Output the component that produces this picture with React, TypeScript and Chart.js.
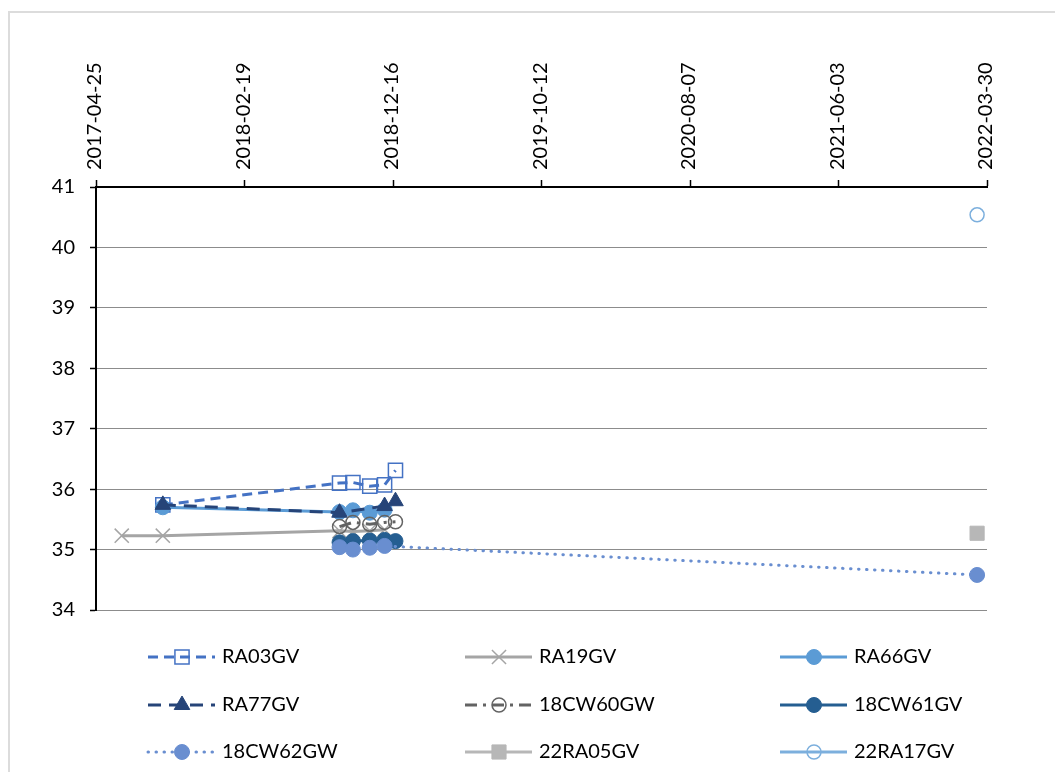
import React, { useEffect, useRef } from 'react';
import { Chart, registerables } from 'chart.js';
Chart.register(...registerables);

// ---------- data ----------
const xTickLabels = ['2017-04-25', '2018-02-19', '2018-12-16', '2019-10-12', '2020-08-07', '2021-06-03', '2022-03-30'];
const yTickValues = [34, 35, 36, 37, 38, 39, 40, 41];

const seriesNames = ['RA03GV', 'RA19GV', 'RA66GV', 'RA77GV', '18CW60GW', '18CW61GV', '18CW62GW', '22RA05GV', '22RA17GV'];

const RA03GV_dates = ['2017-09-07', '2018-08-30', '2018-09-26', '2018-10-30', '2018-11-29', '2018-12-21'];
const RA03GV_values = [35.74, 36.10, 36.11, 36.05, 36.07, 36.31];

const RA19GV_dates = ['2017-06-16', '2017-09-07', '2018-08-30', '2018-09-26', '2018-10-30', '2018-11-29'];
const RA19GV_values = [35.23, 35.23, 35.31, 35.30, 35.31, 35.33];

const RA66GV_dates = ['2017-09-07', '2018-08-30', '2018-09-26', '2018-10-30', '2018-11-29'];
const RA66GV_values = [35.70, 35.62, 35.65, 35.61, 35.66];

const RA77GV_dates = ['2017-09-07', '2018-08-30', '2018-11-29', '2018-12-21'];
const RA77GV_values = [35.74, 35.61, 35.72, 35.80];

const CW60GW_dates = ['2018-08-30', '2018-09-26', '2018-10-30', '2018-11-29', '2018-12-21'];
const CW60GW_values = [35.38, 35.45, 35.42, 35.45, 35.46];

const CW61GV_dates = ['2018-08-30', '2018-09-26', '2018-10-30', '2018-11-29', '2018-12-21'];
const CW61GV_values = [35.12, 35.14, 35.15, 35.16, 35.14];

const CW62GW_dates = ['2018-08-30', '2018-09-26', '2018-10-30', '2018-11-29', '2022-03-10'];
const CW62GW_values = [35.04, 35.00, 35.03, 35.06, 34.58];

const RA05GV_dates = ['2022-03-10'];
const RA05GV_values = [35.27];

const RA17GV_dates = ['2022-03-10'];
const RA17GV_values = [40.54];

const seriesDates = [RA03GV_dates, RA19GV_dates, RA66GV_dates, RA77GV_dates, CW60GW_dates, CW61GV_dates, CW62GW_dates, RA05GV_dates, RA17GV_dates];
const seriesValues = [RA03GV_values, RA19GV_values, RA66GV_values, RA77GV_values, CW60GW_values, CW61GV_values, CW62GW_values, RA05GV_values, RA17GV_values];

// ---------- styles ----------
const styles: any[] = [
  { color: '#4472C4', dash: [10, 6], cap: 'butt', width: 3, pointStyle: 'rect', radius: 10, fill: 'rgba(255,255,255,0)', pborder: '#4472C4', pwidth: 1.5 },
  { color: '#A5A5A5', dash: [], cap: 'butt', width: 3, pointStyle: 'crossRot', radius: 10, fill: '#A5A5A5', pborder: '#A5A5A5', pwidth: 1.5 },
  { color: '#5B9BD5', dash: [], cap: 'butt', width: 3, pointStyle: 'circle', radius: 7.5, fill: '#5B9BD5', pborder: '#5B9BD5', pwidth: 1 },
  { color: '#264478', dash: [13, 8], cap: 'butt', width: 3, pointStyle: 'triangle', radius: 9, fill: '#264478', pborder: '#264478', pwidth: 1 },
  { color: '#636363', dash: [12, 6, 3, 6], cap: 'butt', width: 3, pointStyle: 'circle', radius: 7, fill: 'rgba(255,255,255,0)', pborder: '#636363', pwidth: 1.5 },
  { color: '#255E91', dash: [], cap: 'butt', width: 3, pointStyle: 'circle', radius: 7.5, fill: '#255E91', pborder: '#255E91', pwidth: 1 },
  { color: '#698ED0', dash: [0.5, 7.5], cap: 'round', width: 3, pointStyle: 'circle', radius: 7.5, fill: '#698ED0', pborder: '#698ED0', pwidth: 1 },
  { color: '#B7B7B7', dash: [], cap: 'butt', width: 3, pointStyle: 'rect', radius: 10, fill: '#B7B7B7', pborder: '#B7B7B7', pwidth: 1 },
  { color: '#7CAFDD', dash: [], cap: 'butt', width: 3, pointStyle: 'circle', radius: 7, fill: 'rgba(255,255,255,0)', pborder: '#7CAFDD', pwidth: 1.5 },
];

const legendColX = [148, 465, 780];
const legendRowY = [657, 705, 752];

const DAY = 86400000;
const toDay = (s: string) => {
  const [y, m, d] = s.split('-').map(Number);
  return Date.UTC(y, m - 1, d) / DAY;
};
const fmtDay = (v: number) => new Date(Math.round(v) * DAY).toISOString().slice(0, 10);

function drawMarker(ctx: CanvasRenderingContext2D, style: string, x: number, y: number, r: number, fill: string, stroke: string, lw: number) {
  ctx.save();
  ctx.setLineDash([]);
  ctx.fillStyle = fill;
  ctx.strokeStyle = stroke;
  ctx.lineWidth = lw;
  ctx.beginPath();
  if (style === 'circle') {
    ctx.arc(x, y, r, 0, Math.PI * 2);
    ctx.closePath();
    ctx.fill();
    ctx.stroke();
  } else if (style === 'rect') {
    const s = r * Math.SQRT1_2;
    ctx.rect(x - s, y - s, 2 * s, 2 * s);
    ctx.fill();
    ctx.stroke();
  } else if (style === 'triangle') {
    ctx.moveTo(x, y - r);
    ctx.lineTo(x + r * Math.sin(Math.PI / 3), y + r / 2);
    ctx.lineTo(x - r * Math.sin(Math.PI / 3), y + r / 2);
    ctx.closePath();
    ctx.fill();
    ctx.stroke();
  } else if (style === 'crossRot') {
    const s = r * Math.SQRT1_2;
    ctx.moveTo(x - s, y - s);
    ctx.lineTo(x + s, y + s);
    ctx.moveTo(x + s, y - s);
    ctx.lineTo(x - s, y + s);
    ctx.stroke();
  }
  ctx.restore();
}

const framePlugin = {
  id: 'frame',
  beforeDraw(chart: any) {
    const ctx = chart.ctx;
    ctx.save();
    ctx.strokeStyle = '#dcdcdc';
    ctx.lineWidth = 2;
    ctx.beginPath();
    ctx.moveTo(9, 800);
    ctx.lineTo(9, 12);
    ctx.lineTo(1100, 12);
    ctx.stroke();
    ctx.restore();
  },
};

const legendPlugin = {
  id: 'customLegend',
  afterDraw(chart: any) {
    const ctx = chart.ctx;
    chart.data.datasets.forEach((ds: any, i: number) => {
      const st = styles[i];
      const x0 = legendColX[i % 3];
      const y = legendRowY[Math.floor(i / 3)];
      ctx.save();
      ctx.strokeStyle = st.color;
      ctx.lineWidth = st.width;
      ctx.setLineDash(st.dash);
      ctx.lineCap = st.cap;
      ctx.beginPath();
      ctx.moveTo(x0, y);
      ctx.lineTo(x0 + 67, y);
      ctx.stroke();
      ctx.restore();
      drawMarker(ctx, st.pointStyle, x0 + 34, y, st.radius, st.fill, st.pborder, st.pwidth);
      ctx.save();
      ctx.fillStyle = '#000';
      ctx.font = '20px Lato';
      ctx.textBaseline = 'middle';
      ctx.textAlign = 'left';
      ctx.fillText(ds.label, x0 + 74, y);
      ctx.restore();
    });
  },
};

export default function App() {
  const ref = useRef<HTMLCanvasElement | null>(null);

  useEffect(() => {
    if (!ref.current) return;
    const datasets = seriesNames.map((name, i) => {
      const st = styles[i];
      return {
        label: name,
        data: seriesDates[i].map((d, j) => ({ x: toDay(d), y: seriesValues[i][j] })),
        borderColor: st.color,
        backgroundColor: st.fill,
        borderWidth: st.width,
        borderDash: st.dash,
        borderCapStyle: st.cap,
        pointStyle: st.pointStyle,
        pointRadius: st.radius,
        pointBackgroundColor: st.fill,
        pointBorderColor: st.pborder,
        pointBorderWidth: st.pwidth,
        showLine: true,
        tension: 0,
        order: seriesNames.length - i,
      };
    });

    const chart = new Chart(ref.current, {
      type: 'scatter',
      data: { datasets },
      options: {
        responsive: false,
        devicePixelRatio: 1,
        animation: false,
        layout: { padding: { left: 0, right: 68, top: 0, bottom: 162 } },
        plugins: { legend: { display: false }, tooltip: { enabled: false } },
        scales: {
          x: {
            type: 'linear',
            position: 'top',
            min: toDay(xTickLabels[0]),
            max: toDay(xTickLabels[xTickLabels.length - 1]),
            afterBuildTicks: (scale: any) => {
              scale.ticks = xTickLabels.map((s) => ({ value: toDay(s) }));
            },
            afterFit: (scale: any) => {
              scale.height = 187;
            },
            grid: { drawOnChartArea: false, drawTicks: true, tickLength: 7, tickColor: '#000', tickWidth: 1.5 },
            border: { display: true, color: '#000', width: 2 },
            ticks: {
              autoSkip: false,
              maxRotation: 90,
              minRotation: 90,
              padding: 10,
              labelOffset: 23,
              color: '#000',
              font: { family: 'Lato', size: 20 },
              callback: (v: any) => fmtDay(Number(v)),
            },
          },
          y: {
            type: 'linear',
            min: yTickValues[0],
            max: yTickValues[yTickValues.length - 1],
            afterBuildTicks: (scale: any) => {
              scale.ticks = yTickValues.map((v) => ({ value: v }));
            },
            afterFit: (scale: any) => {
              scale.width = 96;
            },
            grid: { color: '#8c8c8c', lineWidth: 1, tickColor: '#000', tickLength: 6, tickWidth: 1.5 },
            border: { display: true, color: '#000', width: 2 },
            ticks: {
              padding: 15,
              color: '#000',
              font: { family: 'Lato', size: 20 },
              callback: (v: any) => String(v),
            },
          },
        },
      } as any,
      plugins: [framePlugin, legendPlugin],
    });
    return () => chart.destroy();
  }, []);

  return (
    <div style={{ position: 'fixed', left: 0, top: 0, width: 1055, height: 772, overflow: 'hidden', background: '#fff' }}>
      <canvas ref={ref} width={1055} height={772} style={{ display: 'block', width: 1055, height: 772 }} />
    </div>
  );
}
